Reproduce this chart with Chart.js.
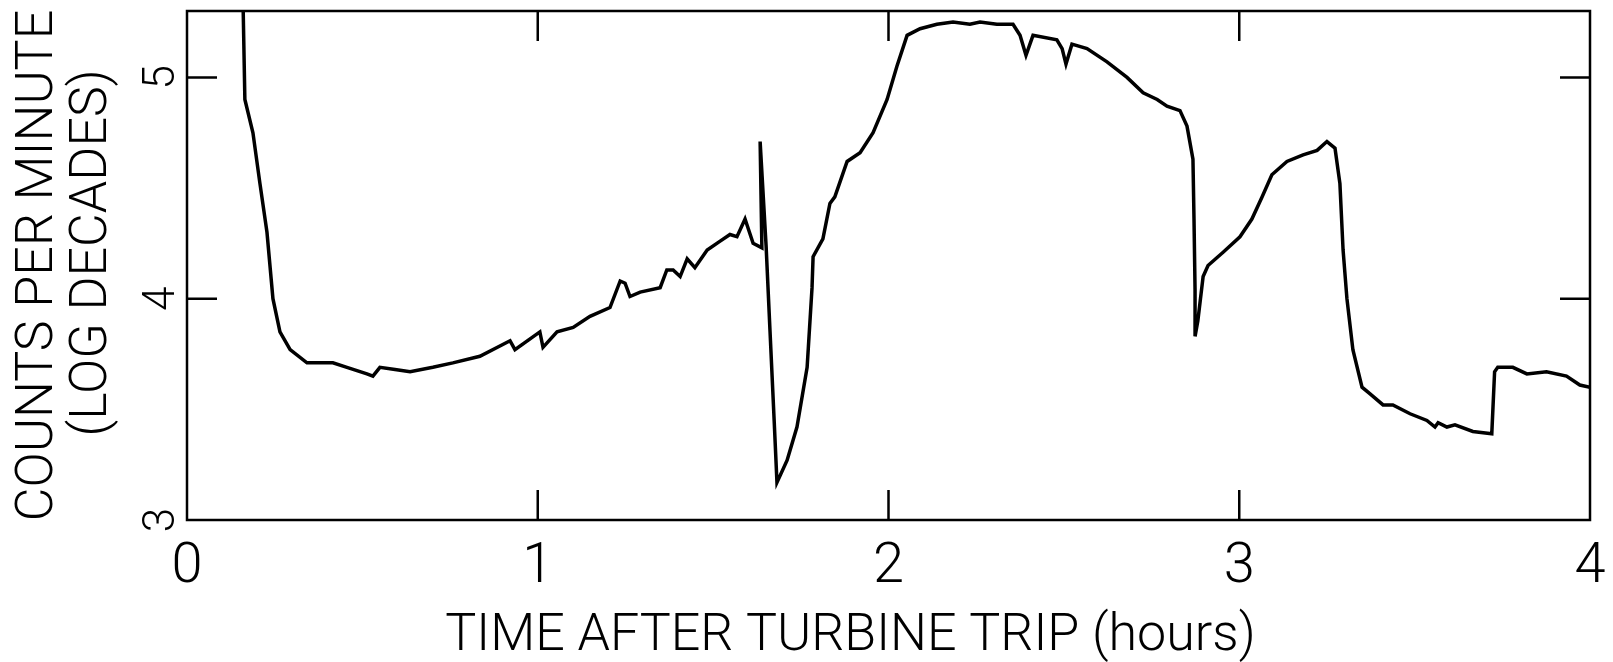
<!DOCTYPE html>
<html>
<head>
<meta charset="utf-8">
<script src="https://cdn.jsdelivr.net/npm/chart.js@4"></script>
<style>
  body { margin: 0; background: #fff; }
  #grafico { display: block; }
</style>
</head>
<body>
<canvas id="grafico" width="1613" height="662"></canvas>
<script>
// hours after turbine trip
const horas = [
  0.160, 0.165, 0.188, 0.208, 0.228, 0.245, 0.265, 0.294, 0.342, 0.416,
  0.456, 0.513, 0.530, 0.550, 0.593, 0.636, 0.701, 0.758, 0.835, 0.921,
  0.935, 1.006, 1.015, 1.055, 1.101, 1.149, 1.206, 1.235, 1.249, 1.263,
  1.292, 1.349, 1.368, 1.386, 1.406, 1.426, 1.448, 1.483, 1.520, 1.548,
  1.568, 1.591, 1.614, 1.639, 1.634, 1.651, 1.662, 1.674, 1.682, 1.711,
  1.739, 1.768, 1.782, 1.785, 1.813, 1.833, 1.847, 1.882, 1.919, 1.956,
  1.996, 2.024, 2.053, 2.090, 2.138, 2.184, 2.232, 2.261, 2.309, 2.355,
  2.375, 2.392, 2.412, 2.480, 2.495, 2.506, 2.523, 2.566, 2.623, 2.680,
  2.726, 2.766, 2.794, 2.831, 2.851, 2.868, 2.871, 2.874, 2.874, 2.882,
  2.897, 2.911, 2.954, 3.002, 3.036, 3.065, 3.093, 3.136, 3.182, 3.222,
  3.250, 3.273, 3.287, 3.296, 3.307, 3.324, 3.350, 3.373, 3.410, 3.438,
  3.487, 3.535, 3.558, 3.567, 3.592, 3.615, 3.666, 3.720, 3.728, 3.737,
  3.780, 3.820, 3.876, 3.933, 3.971, 4.000
]
// counts per minute, log decades
const decadas = [
  5.32, 4.90, 4.75, 4.52, 4.30, 4.00, 3.85, 3.77, 3.71, 3.71,
  3.69, 3.66, 3.65, 3.69, 3.68, 3.67, 3.69, 3.71, 3.74, 3.81,
  3.77, 3.85, 3.78, 3.85, 3.87, 3.92, 3.96, 4.08, 4.07, 4.01,
  4.03, 4.05, 4.13, 4.13, 4.10, 4.18, 4.14, 4.22, 4.26, 4.29,
  4.28, 4.36, 4.25, 4.23, 4.71, 4.24, 3.86, 3.45, 3.17, 3.27,
  3.42, 3.69, 4.05, 4.19, 4.27, 4.43, 4.46, 4.62, 4.66, 4.75,
  4.90, 5.05, 5.19, 5.22, 5.24, 5.25, 5.24, 5.25, 5.24, 5.24,
  5.19, 5.10, 5.19, 5.17, 5.13, 5.06, 5.15, 5.13, 5.07, 5.00,
  4.93, 4.90, 4.87, 4.85, 4.78, 4.63, 4.36, 4.04, 3.83, 3.90,
  4.10, 4.15, 4.21, 4.28, 4.36, 4.46, 4.56, 4.62, 4.65, 4.67,
  4.71, 4.68, 4.52, 4.22, 4.00, 3.77, 3.60, 3.57, 3.52, 3.52,
  3.48, 3.45, 3.42, 3.44, 3.42, 3.43, 3.40, 3.39, 3.67, 3.69,
  3.69, 3.66, 3.67, 3.65, 3.61, 3.60
]
const ticks_x = [0, 1, 2, 3, 4]
const ticks_y = [3, 4, 5]
const marcas_x = [1, 2, 3]
const marcas_y = [4, 5]

const fonte = "Roboto, 'Liberation Sans', sans-serif"

const pontos = horas.map((h, i) => ({ x: h, y: decadas[i] }))

// box round the plot plus the inward tick marks on all four sides
const moldura = {
  id: 'moldura',
  afterDraw(chart) {
    const c = chart.ctx
    const a = chart.chartArea
    const sx = chart.scales.x
    const sy = chart.scales.y
    const L = 30
    c.save()
    c.strokeStyle = '#000'
    c.lineWidth = 2.5
    c.strokeRect(a.left, a.top, a.right - a.left, a.bottom - a.top)
    c.beginPath()
    marcas_x.forEach(v => {
      const px = sx.getPixelForValue(v)
      c.moveTo(px, a.bottom); c.lineTo(px, a.bottom - L)
      c.moveTo(px, a.top); c.lineTo(px, a.top + L)
    })
    marcas_y.forEach(v => {
      const py = sy.getPixelForValue(v)
      c.moveTo(a.left, py); c.lineTo(a.left + L, py)
      c.moveTo(a.right, py); c.lineTo(a.right - L, py)
    })
    c.stroke()
    c.restore()
  }
}

new Chart(document.getElementById('grafico'), {
  type: 'scatter',
  data: {
    datasets: [{
      data: pontos,
      showLine: true,
      borderColor: '#000',
      borderWidth: 3.5,
      pointRadius: 0,
      tension: 0
    }]
  },
  options: {
    responsive: false,
    animation: false,
    devicePixelRatio: 1,
    layout: { padding: { left: 0, top: 11, right: 23, bottom: 0 } },
    plugins: { legend: { display: false }, tooltip: { enabled: false } },
    scales: {
      x: {
        type: 'linear',
        min: 0,
        max: 4,
        afterBuildTicks: s => { s.ticks = ticks_x.map(v => ({ value: v })) },
        afterFit: s => { s.height = 142; s.paddingLeft = 0; s.paddingRight = 0 },
        grid: { display: false },
        border: { display: false },
        ticks: {
          color: '#000',
          padding: 6,
          font: { family: fonte, size: 56, weight: 300 }
        },
        title: {
          display: true,
          text: 'TIME AFTER TURBINE TRIP (hours)      ',
          color: '#000',
          font: { family: fonte, size: 52, weight: 300, lineHeight: 0.8 },
          padding: { top: 0, bottom: 4 }
        }
      },
      y: {
        type: 'linear',
        min: 3,
        max: 5.3,
        afterBuildTicks: s => { s.ticks = ticks_y.map(v => ({ value: v })) },
        afterFit: s => { s.width = 187; s.paddingTop = 0; s.paddingBottom = 0 },
        grid: { display: false },
        border: { display: false },
        ticks: {
          color: '#000',
          padding: 4,
          minRotation: 90,
          maxRotation: 90,
          crossAlign: 'center',
          font: { family: fonte, size: 44, weight: 300 }
        },
        title: {
          display: true,
          text: ['COUNTS PER MINUTE', '  (LOG DECADES)'],
          color: '#000',
          font: { family: fonte, size: 52, weight: 300, lineHeight: 1.04 },
          padding: { top: 12, bottom: 0 }
        }
      }
    }
  },
  plugins: [moldura]
})
</script>
</body>
</html>
